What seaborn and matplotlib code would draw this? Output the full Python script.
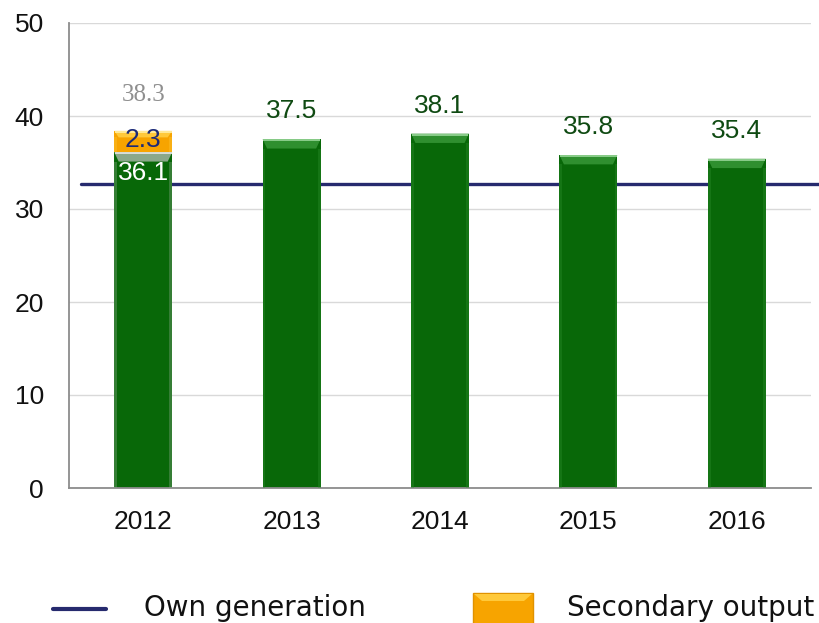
import matplotlib
matplotlib.use("Agg")
import matplotlib.pyplot as plt
from matplotlib.patches import Polygon, Rectangle
from matplotlib.lines import Line2D
import seaborn as sns
import pandas as pd

years = ["2012", "2013", "2014", "2015", "2016"]
own_output = [36.1, 37.5, 38.1, 35.8, 35.4]
secondary_output = [2.3, 0, 0, 0, 0]
total_2012 = 38.3
own_generation_level = 32.7

sns.set_style("white")
plt.rcParams["font.family"] = ["Liberation Sans", "DejaVu Sans"]

GREEN = "#086808"
GREEN_BEVEL = "#2f8f2f"
GREEN_HI = "#9ad89a"
ORANGE = "#f7a400"
ORANGE_BEVEL = "#ffc93a"
ORANGE_HI = "#fff0a8"
NAVY = "#262a6e"

fig = plt.figure(figsize=(8.19, 6.23), dpi=100)
ax = fig.add_axes([69 / 819, 1 - 488 / 623, 742 / 819, 465 / 623])

df = pd.DataFrame({"year": years, "own": own_output, "secondary": secondary_output})
df["stack"] = df["own"] + df["secondary"]

# stacked bars: the full stack in orange, own output in green in front of it
sns.barplot(data=df, x="year", y="stack", color=ORANGE, saturation=1,
            width=0.39, ax=ax, edgecolor="none")
sns.barplot(data=df, x="year", y="own", color=GREEN, saturation=1,
            width=0.39, ax=ax, edgecolor="none")

ax.set_xlim(-0.5, 4.5)
ax.set_ylim(0, 50)

n = len(years)
orange_bars = ax.patches[:n]
green_bars = ax.patches[n:2 * n]
for b in orange_bars:
    b.set_zorder(2)
for b in green_bars:
    b.set_zorder(2.2)


def bevel(bar, face, hi, edge_w=0.03, edge_h=1.0, z=3):
    x0, w = bar.get_x(), bar.get_width()
    y0 = bar.get_y()
    top = y0 + bar.get_height()
    if top <= y0:
        return
    ax.add_patch(Polygon([[x0, top], [x0 + w, top], [x0 + w - edge_w, top - edge_h],
                          [x0 + edge_w, top - edge_h]], closed=True,
                         facecolor=face, edgecolor="none", zorder=z))
    ax.plot([x0 + 0.004, x0 + w - 0.004], [top - 0.12, top - 0.12], color=hi,
            lw=1.2, solid_capstyle="butt", zorder=z + 0.1)
    # slightly lighter side edges
    for xs in ([x0, x0 + edge_w * 0.6], [x0 + w - edge_w * 0.6, x0 + w]):
        ax.add_patch(Rectangle((xs[0], y0), xs[1] - xs[0], top - edge_h - y0,
                               facecolor=face, alpha=0.35, edgecolor="none",
                               zorder=z))


for i, b in enumerate(green_bars):
    if secondary_output[i] > 0:
        # the segment under the orange cap gets a greyish top edge
        bevel(b, "#8aa88a", "#e8e8e8", z=3)
    else:
        bevel(b, GREEN_BEVEL, GREEN_HI, z=3)
for b, s in zip(orange_bars, secondary_output):
    if s > 0:
        bevel(b, ORANGE_BEVEL, ORANGE_HI, edge_h=0.7, z=2.1)

ax.axhline(own_generation_level, xmin=12 / 742, xmax=1.02, color=NAVY, lw=2.4,
           zorder=1.6, clip_on=False)

# value labels
for i, (b, v) in enumerate(zip(green_bars, own_output)):
    cx = b.get_x() + b.get_width() / 2
    if i == 0:
        ax.text(cx, v - 2.2, f"{v:.1f}", ha="center", va="center", color="white",
                fontsize=19, zorder=5)
    else:
        ax.text(cx, v + 3.0, f"{v:.1f}", ha="center", va="center", color="#0f4a12",
                fontsize=19, zorder=5)

cx0 = green_bars[0].get_x() + green_bars[0].get_width() / 2
ax.text(cx0, own_output[0] + secondary_output[0] / 2 + 0.2, f"{secondary_output[0]:.1f}",
        ha="center", va="center", color="#1b2a78", fontsize=19, zorder=5)
ax.text(cx0, total_2012 + 4.0, f"{total_2012:.1f}", ha="center", va="center",
        color="#8f8f8f", fontsize=18, family=["Liberation Serif", "DejaVu Serif"],
        zorder=5)

# axes styling
ax.set_yticks(range(0, 51, 10))
ax.yaxis.grid(True, color="#d9d9d9", lw=1)
ax.set_axisbelow(True)
for side in ["top", "right"]:
    ax.spines[side].set_visible(False)
for side in ["left", "bottom"]:
    ax.spines[side].set_color("#8c8c8c")
    ax.spines[side].set_linewidth(1.3)
ax.set_xlabel("")
ax.set_ylabel("")
ax.tick_params(axis="y", which="major", direction="inout", length=12, width=1.3,
               color="#8c8c8c", labelsize=19, pad=12, labelcolor="#111111")
ax.tick_params(axis="x", which="major", length=0, labelsize=19, pad=16,
               labelcolor="#111111")
ax.set_xticks(range(n))
ax.set_xticklabels(years)
ax.set_xticks([i - 0.5 for i in range(n + 1)], minor=True)
ax.tick_params(axis="x", which="minor", direction="out", length=6, width=1.3,
               color="#8c8c8c")

# legend
fig.lines.append(Line2D([53 / 819, 106 / 819], [1 - 609 / 623] * 2, color=NAVY,
                        lw=3, transform=fig.transFigure))
fig.text(144 / 819, 1 - 608 / 623, "Own generation", fontsize=20, va="center",
         family=["DejaVu Sans"], color="#111111")
fig.patches.append(Rectangle((473 / 819, 1 - 624 / 623), 60 / 819, 31 / 623,
                             facecolor=ORANGE, edgecolor="#e09200", lw=1,
                             transform=fig.transFigure))
fig.patches.append(Polygon([[474 / 819, 1 - 594 / 623], [532 / 819, 1 - 594 / 623],
                            [524 / 819, 1 - 601 / 623], [482 / 819, 1 - 601 / 623]],
                           closed=True, facecolor=ORANGE_BEVEL, edgecolor="none",
                           transform=fig.transFigure))
fig.text(567 / 819, 1 - 608 / 623, "Secondary output", fontsize=20, va="center",
         family=["DejaVu Sans"], color="#111111")

fig.savefig("out.png", dpi=100)
